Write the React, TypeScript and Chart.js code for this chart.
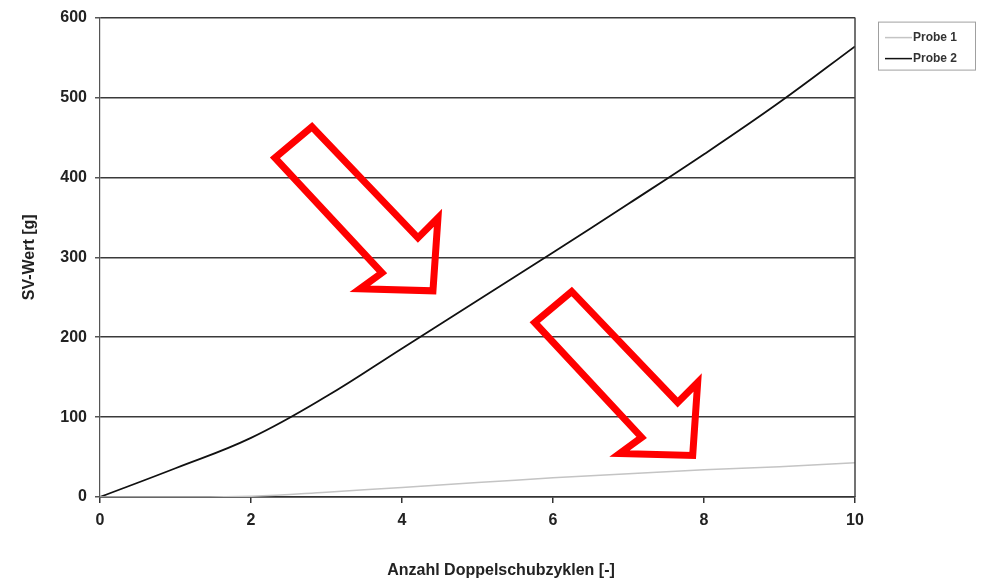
import React, { useEffect, useRef } from "react";
import { Chart, registerables } from "chart.js";

Chart.register(...registerables);

// ---- data ----
const cycles = [0, 1, 2, 3, 4, 5, 6, 7, 8, 9, 10];
const probe1 = [0, 0, 1, 6, 12, 18, 24, 29, 34, 38, 43];
const probe2 = [0, 36, 74, 126, 186, 246, 306, 367, 429, 494, 564];
const seriesLabels = ["Probe 1", "Probe 2"];
const seriesColors = ["#c4c4c4", "#111111"];
const xTitle = "Anzahl Doppelschubzyklen [-]";
const yTitle = "SV-Wert [g]";
const xRange = [0, 10];
const yRange = [0, 600];
const xStep = 2;
const yStep = 100;
// red annotation arrows: tip anchored in data coordinates
const arrowTipsX = [4.41, 7.85];
const arrowTipsY = [258, 52];

// arrow outline relative to tip (pixels)
const ARROW_SHAPE: [number, number][] = [
  [0, 0],
  [5, -73],
  [-15, -53],
  [-121, -164],
  [-158, -133],
  [-51, -18],
  [-73, -2],
];

const FONT = "'Liberation Sans', Arial, sans-serif";

const decorPlugin = {
  id: "decor",
  afterDatasetsDraw(chart: any) {
    const { ctx, chartArea, scales } = chart;
    const xs = scales.x;
    const ys = scales.y;
    ctx.save();
    // right border
    ctx.strokeStyle = "#444";
    ctx.lineWidth = 1.5;
    ctx.beginPath();
    ctx.moveTo(chartArea.right, chartArea.top);
    ctx.lineTo(chartArea.right, chartArea.bottom);
    ctx.stroke();

    // arrows
    ctx.strokeStyle = "#ff0000";
    ctx.lineWidth = 7;
    ctx.lineJoin = "miter";
    ctx.miterLimit = 10;
    for (let i = 0; i < arrowTipsX.length; i++) {
      const tx = xs.getPixelForValue(arrowTipsX[i]);
      const ty = ys.getPixelForValue(arrowTipsY[i]);
      ctx.beginPath();
      ARROW_SHAPE.forEach(([dx, dy], k) => {
        if (k === 0) ctx.moveTo(tx + dx, ty + dy);
        else ctx.lineTo(tx + dx, ty + dy);
      });
      ctx.closePath();
      ctx.stroke();
    }

    // legend box
    const lx = chartArea.right + 23;
    const ly = chartArea.top + 4;
    const lw = 97;
    const lh = 48;
    ctx.strokeStyle = "#a0a0a0";
    ctx.lineWidth = 1;
    ctx.strokeRect(lx + 0.5, ly + 0.5, lw, lh);
    ctx.font = `bold 12px ${FONT}`;
    ctx.textBaseline = "middle";
    ctx.textAlign = "left";
    chart.data.datasets.forEach((ds: any, i: number) => {
      const yy = ly + 16 + i * 21;
      ctx.strokeStyle = ds.borderColor;
      ctx.lineWidth = 1.5;
      ctx.beginPath();
      ctx.moveTo(lx + 7, yy);
      ctx.lineTo(lx + 34, yy);
      ctx.stroke();
      ctx.fillStyle = "#333";
      ctx.fillText(ds.label, lx + 35, yy);
    });

    // axis titles
    ctx.fillStyle = "#222";
    ctx.font = `bold 16px ${FONT}`;
    ctx.textAlign = "center";
    ctx.textBaseline = "middle";
    ctx.fillText(xTitle, chartArea.left + 401, chartArea.bottom + 74);
    ctx.save();
    ctx.translate(30, (chartArea.top + chartArea.bottom) / 2);
    ctx.rotate(-Math.PI / 2);
    ctx.fillText(yTitle, 0, 0);
    ctx.restore();
    ctx.restore();
  },
};

export default function App() {
  const ref = useRef<HTMLCanvasElement | null>(null);
  useEffect(() => {
    document.body.style.margin = "0";
    const canvas = ref.current!;
    const tickFont = { family: FONT, size: 16, weight: "bold" as const };
    const chart = new Chart(canvas, {
      type: "line",
      data: {
        datasets: [
          {
            label: seriesLabels[0],
            data: cycles.map((c, i) => ({ x: c, y: probe1[i] })),
            borderColor: seriesColors[0],
            borderWidth: 1.5,
            pointRadius: 0,
            tension: 0.4,
          },
          {
            label: seriesLabels[1],
            data: cycles.map((c, i) => ({ x: c, y: probe2[i] })),
            borderColor: seriesColors[1],
            borderWidth: 1.8,
            pointRadius: 0,
            tension: 0.4,
          },
        ],
      },
      options: {
        animation: false,
        responsive: false,
        devicePixelRatio: 1,
        layout: { padding: { left: 0, right: 127, top: 16, bottom: 0 } },
        plugins: { legend: { display: false }, tooltip: { enabled: false } },
        scales: {
          x: {
            type: "linear",
            min: xRange[0],
            max: xRange[1],
            ticks: { stepSize: xStep, font: tickFont, color: "#222", padding: 8 },
            grid: { drawOnChartArea: false, drawTicks: true, tickLength: 6, color: "#333", lineWidth: 1.5 },
            border: { display: true, color: "#333", width: 1.5 },
            afterFit: (s: any) => {
              s.height = 86;
            },
          },
          y: {
            type: "linear",
            min: yRange[0],
            max: yRange[1],
            ticks: { stepSize: yStep, font: tickFont, color: "#222", padding: 8 },
            grid: { color: "#3a3a3a", lineWidth: 1.5, tickLength: 5, tickColor: "#555" },
            border: { display: true, color: "#555", width: 1.2 },
            afterFit: (s: any) => {
              s.width = 100;
            },
          },
        },
      },
      plugins: [decorPlugin],
    } as any);
    return () => chart.destroy();
  }, []);
  return (
    <div style={{ width: 982, height: 583, background: "#fff" }}>
      <canvas ref={ref} width={982} height={583} style={{ display: "block" }} />
    </div>
  );
}
